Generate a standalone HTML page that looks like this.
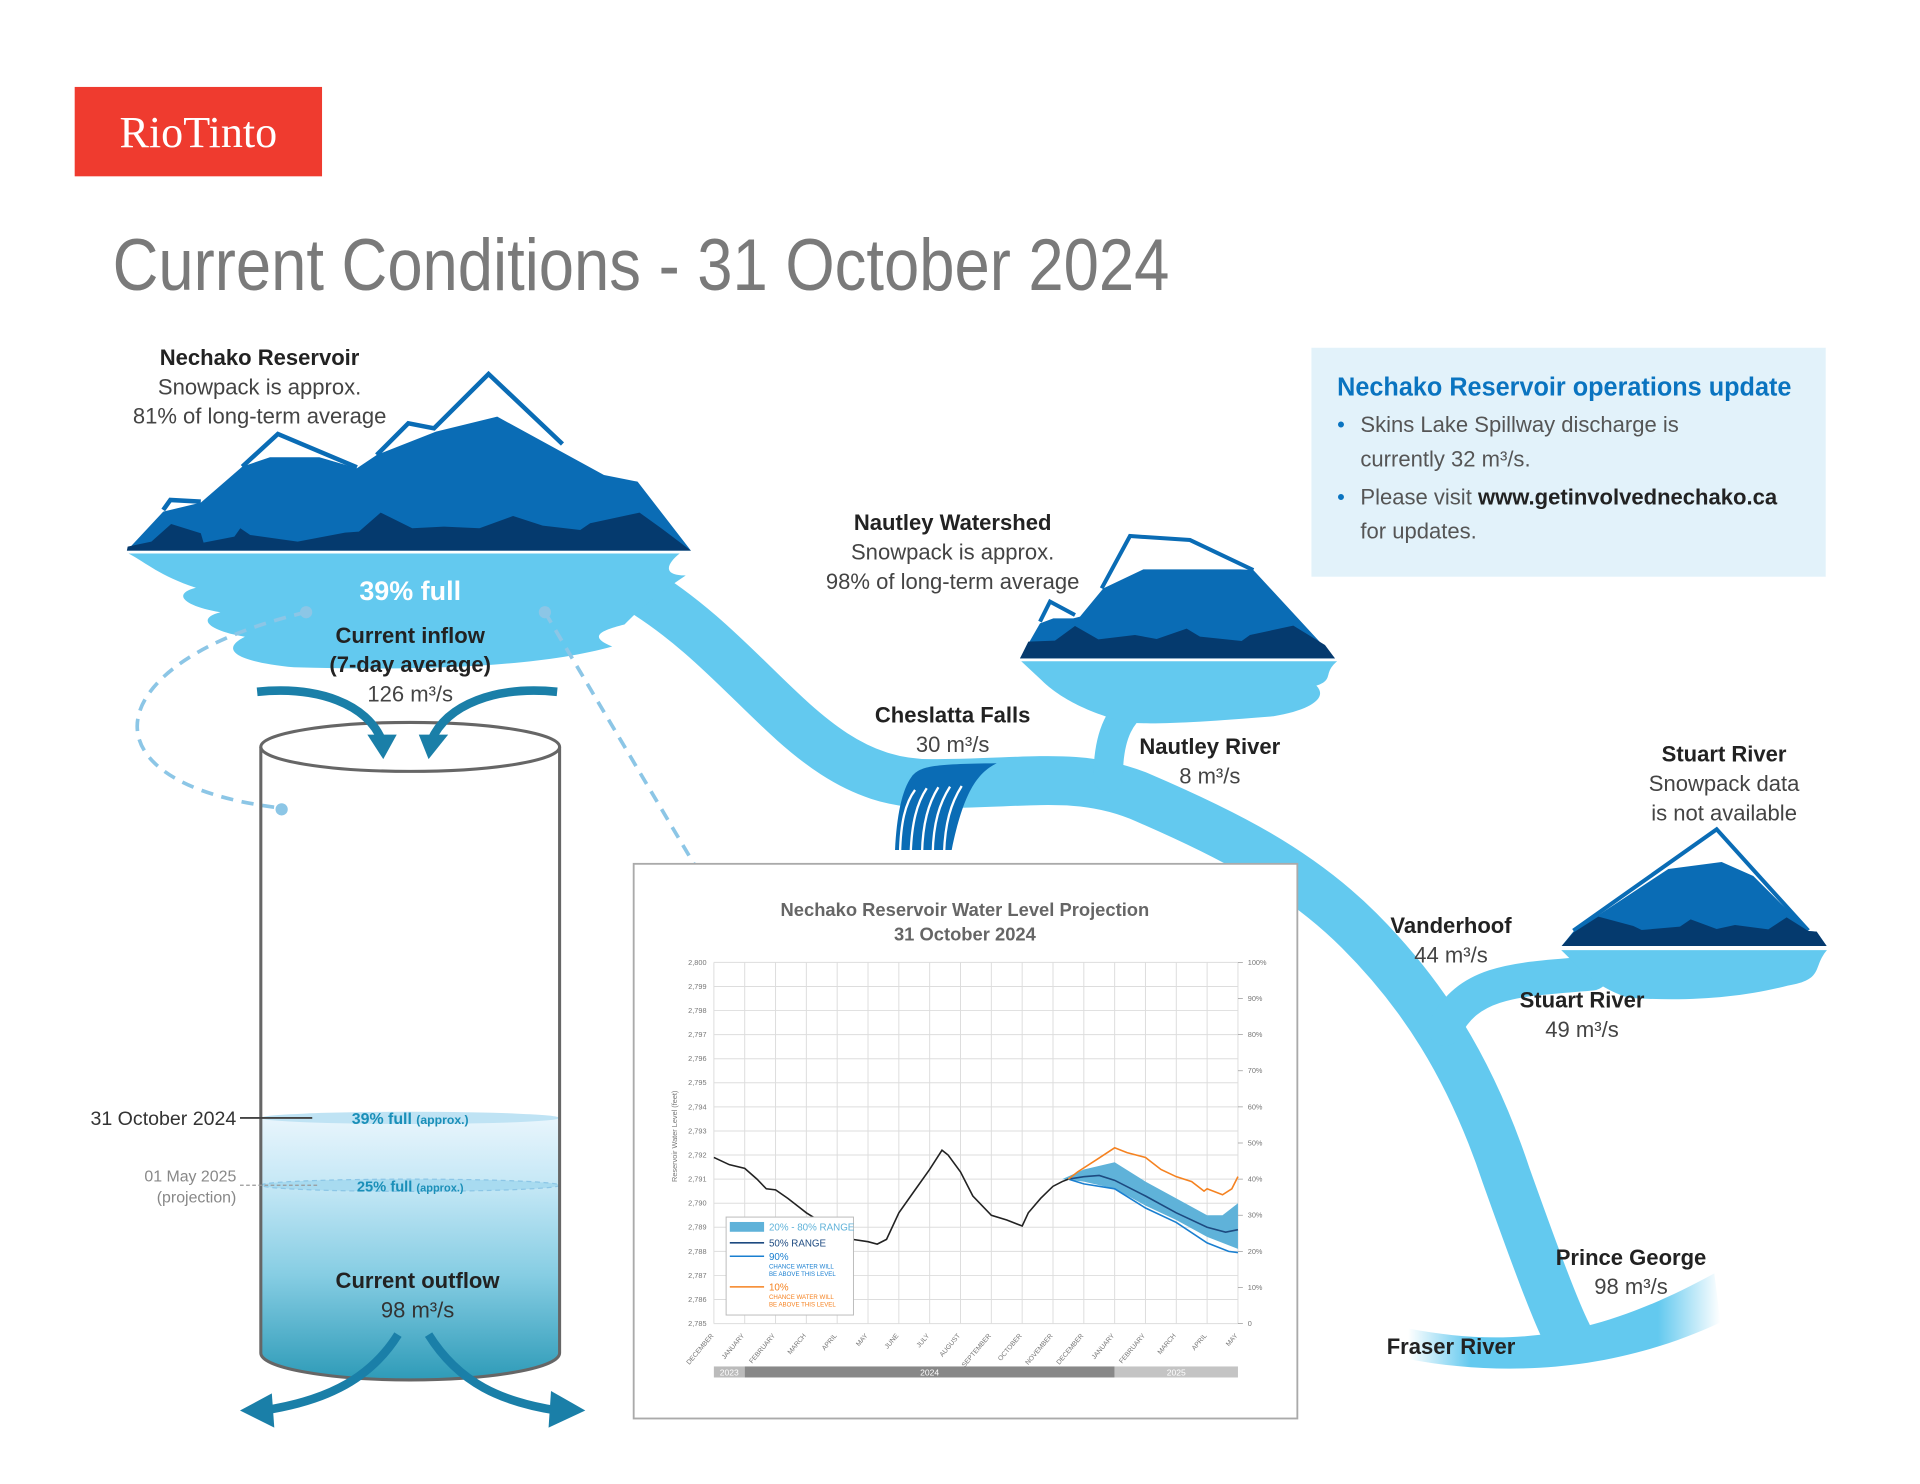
<!DOCTYPE html>
<html><head><meta charset="utf-8"><style>
html,body{margin:0;padding:0;background:#fff;}
svg{display:block;}
text{font-family:"Liberation Sans",sans-serif;}
</style></head><body>
<svg id="s" width="1920" height="1484" viewBox="0 0 1568 1212" preserveAspectRatio="none" xmlns="http://www.w3.org/2000/svg">
<defs>
<linearGradient id="cyl" x1="0" y1="0" x2="0" y2="1">
<stop offset="0" stop-color="#e8f5fc"/><stop offset="0.25" stop-color="#c6e8f6"/><stop offset="0.6" stop-color="#86cde3"/><stop offset="1" stop-color="#2e9bb8"/></linearGradient>
<linearGradient id="fr" x1="0" y1="0" x2="1" y2="0">
<stop offset="0" stop-color="#63c9ef" stop-opacity="0"/><stop offset="0.2" stop-color="#63c9ef"/><stop offset="0.8" stop-color="#63c9ef"/><stop offset="1" stop-color="#63c9ef" stop-opacity="0"/></linearGradient>
</defs>
<rect x="61" y="71" width="202" height="73" fill="#ef3b2f"/>
<text x="162" y="120" text-anchor="middle" fill="#fff" font-size="36" style="font-family:'Liberation Serif',serif">RioTinto</text>
<text x="92" y="237" fill="#7a7a7a" font-size="60" textLength="863" lengthAdjust="spacingAndGlyphs">Current Conditions - 31 October 2024</text>

<rect x="1071" y="284" width="420" height="187" fill="#e2f2fa"/>
<text x="1092" y="323" fill="#0a74c0" font-size="21" font-weight="bold" textLength="371" lengthAdjust="spacingAndGlyphs">Nechako Reservoir operations update</text>
<g fill="#555" font-size="18">
<text x="1092" y="353" fill="#0a74c0">•</text>
<text x="1111" y="353">Skins Lake Spillway discharge is</text>
<text x="1111" y="381">currently 32 m³/s.</text>
<text x="1092" y="412" fill="#0a74c0">•</text>
<text x="1111" y="412">Please visit <tspan font-weight="bold" fill="#222">www.getinvolvednechako.ca</tspan></text>
<text x="1111" y="440">for updates.</text>
</g>

<g fill="none" stroke="#63c9ef" stroke-linecap="round">
<path d="M520 480 C620 540 660 640 760 640 C840 640 880 630 930 650 C1000 680 1060 710 1110 760 C1160 810 1200 870 1230 960 C1255 1030 1270 1070 1280 1090" stroke-width="40"/>
<path d="M1180 840 C1200 800 1240 800 1300 795" stroke-width="28"/>
<path d="M905 635 C905 600 915 580 935 570" stroke-width="24"/>
</g>
<path d="M1150 1085 C1230 1100 1300 1095 1400 1040 L1405 1080 C1320 1120 1230 1125 1150 1110 Z" fill="url(#fr)"/>
<path d="M105 452 L555 452 C545 460 540 470 560 470 C530 490 520 500 510 510 C490 515 480 520 500 528 C440 545 340 548 240 545 C190 540 180 530 200 520 C170 515 160 505 180 500 C150 495 140 485 160 480 C130 470 120 460 105 452 Z" fill="#63c9ef"/>

<!-- big mountain (zoom coords) -->
<g transform="translate(81.67,294) scale(0.3228,0.2722)">
<path d="M68,572 L160,455 L255,428 L360,320 L430,292 L555,292 L650,325 L700,285 L850,215 L1005,170 L1275,345 L1360,365 L1495,572 Z" fill="#0a6cb5"/>
<path d="M160,450 L178,420 L255,425 M360,320 L450,222 L650,322 M700,285 L780,190 L845,205 L983,42 L1170,252" fill="none" stroke="#0a6cb5" stroke-width="4.5" vector-effect="non-scaling-stroke"/>
<path d="M70,560 L130,545 L180,492 L255,520 L262,548 L340,530 L355,505 L380,525 L500,545 L620,518 L655,515 L710,458 L790,505 L870,500 L960,505 L1045,468 L1120,497 L1215,510 L1240,490 L1365,458 L1420,505 L1495,572 L68,572 Z" fill="#053a6e"/>
</g>

<!-- Nautley lake -->
<path d="M834 540 L1092 540 C1080 550 1090 555 1075 560 C1085 570 1070 580 1040 585 C980 590 940 592 920 590 C880 580 860 565 850 555 Z" fill="#63c9ef"/>
<g transform="translate(833,424.7) scale(0.2722)">
<path d="M0,415 L60,310 L100,295 L160,295 L180,290 L250,205 L370,148 L660,148 L700,150 L945,415 Z" fill="#0a6cb5"/>
<path d="M60,305 L90,245 L165,285 M245,205 L330,48 L510,60 L700,150" fill="none" stroke="#0a6cb5" stroke-width="4" vector-effect="non-scaling-stroke"/>
<path d="M0,415 L25,365 L105,362 L165,318 L235,358 L345,345 L410,357 L500,326 L540,350 L665,363 L690,345 L820,317 L915,375 L945,415 Z" fill="#053a6e"/>
</g>
<!-- Stuart -->
<path d="M1275 776 L1492 776 C1480 790 1490 800 1460 805 C1420 815 1380 818 1330 815 C1300 805 1290 790 1275 776 Z" fill="#63c9ef"/>
<g transform="translate(1274,669.7) scale(0.2722)">
<path d="M5,378 L40,335 L325,147 L485,126 L580,168 L745,333 L770,335 L800,378 Z" fill="#0a6cb5"/>
<path d="M40,332 L470,28 L745,332" fill="none" stroke="#0a6cb5" stroke-width="4" vector-effect="non-scaling-stroke"/>
<path d="M5,378 L40,338 L115,290 L220,318 L245,330 L360,320 L392,298 L470,327 L525,315 L625,328 L680,292 L745,333 L770,335 L800,378 Z" fill="#053a6e"/>
</g>

<!-- waterfall -->
<g transform="translate(718.7,612.5) scale(0.2722)">
<path d="M95,80 C120,50 150,42 350,40 C290,70 250,130 215,300 L45,300 C50,200 65,120 95,80 Z" fill="#0a6cb5"/>
<g stroke="#fff" stroke-width="7" fill="none"><path d="M60,310 C62,220 75,160 105,120"/><path d="M92,310 C95,220 110,160 140,115"/><path d="M126,310 C128,220 145,160 175,112"/><path d="M158,310 C160,220 178,160 210,110"/><path d="M192,310 C195,220 212,160 245,108"/></g>
</g>

<g fill="none" stroke="#8cc6e6" stroke-width="3" stroke-dasharray="10 7">
<path d="M250 500 C80 540 60 640 230 660"/>
<path d="M445 500 L583 733"/>
</g>
<g fill="#8cc6e6"><circle cx="250" cy="500" r="5"/><circle cx="230" cy="661" r="5"/><circle cx="445" cy="500" r="5"/><circle cx="583" cy="734" r="5"/></g>

<g font-size="18" text-anchor="middle" fill="#444">
<text x="212" y="298" font-weight="bold" fill="#222">Nechako Reservoir</text>
<text x="212" y="322">Snowpack is approx.</text>
<text x="212" y="346">81% of long-term average</text>
<text x="335" y="490" font-weight="bold" fill="#fff" font-size="22">39% full</text>
<text x="335" y="525" font-weight="bold" fill="#222">Current inflow</text>
<text x="335" y="549" font-weight="bold" fill="#222">(7-day average)</text>
<text x="335" y="573">126 m³/s</text>
<text x="778" y="433" font-weight="bold" fill="#222">Nautley Watershed</text>
<text x="778" y="457">Snowpack is approx.</text>
<text x="778" y="481">98% of long-term average</text>
<text x="778" y="590" font-weight="bold" fill="#222">Cheslatta Falls</text>
<text x="778" y="614">30 m³/s</text>
<text x="988" y="616" font-weight="bold" fill="#222">Nautley River</text>
<text x="988" y="640">8 m³/s</text>
<text x="1408" y="622" font-weight="bold" fill="#222">Stuart River</text>
<text x="1408" y="646">Snowpack data</text>
<text x="1408" y="670">is not available</text>
<text x="1185" y="762" font-weight="bold" fill="#222">Vanderhoof</text>
<text x="1185" y="786">44 m³/s</text>
<text x="1292" y="823" font-weight="bold" fill="#222">Stuart River</text>
<text x="1292" y="847">49 m³/s</text>
<text x="1332" y="1033" font-weight="bold" fill="#222">Prince George</text>
<text x="1332" y="1057">98 m³/s</text>
<text x="1185" y="1106" font-weight="bold" fill="#222">Fraser River</text>
</g>

<path d="M213 913 L213 1105 A122 22 0 0 0 457 1105 L457 913 Z" fill="url(#cyl)"/>
<ellipse cx="335" cy="913" rx="122" ry="5" fill="#bfe3f4"/>
<ellipse cx="335" cy="968" rx="122" ry="5" fill="#a8dbf0" stroke="#8cc6e6" stroke-dasharray="4 3"/>
<path d="M213 610 L213 1105 A122 22 0 0 0 457 1105 L457 610" fill="none" stroke="#666" stroke-width="2.5"/>
<ellipse cx="335" cy="610" rx="122" ry="20" fill="#fff" stroke="#666" stroke-width="2.5"/>
<g fill="none" stroke="#1a7fa8" stroke-width="7">
<path d="M210 565 C260 560 300 575 312 605"/><path d="M455 565 C405 560 365 575 352 605"/>
<path d="M325 1090 C300 1130 260 1145 215 1152"/><path d="M350 1090 C375 1130 410 1145 455 1152"/>
</g>
<g fill="#1a7fa8"><path d="M300 600 L324 600 L313 620 Z"/><path d="M342 600 L366 600 L350 620 Z"/>
<path d="M196 1152 L222 1138 L224 1166 Z"/><path d="M478 1152 L450 1136 L448 1166 Z"/></g>
<text x="335" y="918" text-anchor="middle" font-size="13" font-weight="bold" fill="#1a8fb8">39% full <tspan font-size="10">(approx.)</tspan></text>
<text x="335" y="973" text-anchor="middle" font-size="12" font-weight="bold" fill="#1a8fb8">25% full <tspan font-size="9">(approx.)</tspan></text>
<text x="341" y="1052" text-anchor="middle" font-size="18" font-weight="bold" fill="#222">Current outflow</text>
<text x="341" y="1076" text-anchor="middle" font-size="18" fill="#333">98 m³/s</text>
<line x1="196" y1="913" x2="255" y2="913" stroke="#444" stroke-width="1.5"/>
<text x="193" y="919" text-anchor="end" font-size="16" fill="#333">31 October 2024</text>
<line x1="196" y1="968" x2="260" y2="968" stroke="#999" stroke-width="1" stroke-dasharray="3 2"/>
<text x="193" y="965" text-anchor="end" font-size="13" fill="#888">01 May 2025</text>
<text x="193" y="982" text-anchor="end" font-size="13" fill="#888">(projection)</text>

<rect x="517.5" y="705.5" width="542" height="453" fill="#fff" stroke="#aaa" stroke-width="1.5"/>
<text x="788" y="748" text-anchor="middle" font-size="15" font-weight="bold" fill="#666">Nechako Reservoir Water Level Projection</text>
<text x="788" y="768" text-anchor="middle" font-size="15" font-weight="bold" fill="#666">31 October 2024</text>
<g id="chart"></g>
</svg>
<script>
(function(){
var g=document.getElementById('chart'),NS='http://www.w3.org/2000/svg';
function el(t,a,txt){var e=document.createElementNS(NS,t);for(var k in a)e.setAttribute(k,a[k]);if(txt!=null)e.textContent=txt;g.appendChild(e);return e;}
var x0=583,x1=1011,y0=786,y1=1081,dx=(x1-x0)/17;
function X(i){return x0+i*dx;}function Y(v){return y0+(2800-v)*(y1-y0)/15;}
for(var i=0;i<=15;i++){var y=Y(2800-i);el('line',{x1:x0,x2:x1,y1:y,y2:y,stroke:'#ddd','stroke-width':0.8});
el('text',{x:x0-6,y:y+2,'font-size':6,'text-anchor':'end',fill:'#777'},'2,'+(800-i));}
var m=['DECEMBER','JANUARY','FEBRUARY','MARCH','APRIL','MAY','JUNE','JULY','AUGUST','SEPTEMBER','OCTOBER','NOVEMBER','DECEMBER','JANUARY','FEBRUARY','MARCH','APRIL','MAY'];
for(var i=0;i<18;i++){var x=X(i);el('line',{x1:x,x2:x,y1:y0,y2:y1,stroke:'#ddd','stroke-width':0.8});
el('text',{x:x,y:y1+10,'font-size':5.5,'text-anchor':'end',fill:'#777',transform:'rotate(-50 '+x+' '+(y1+10)+')'},m[i]);}
for(var p=0;p<=10;p++){var y=y1-p*(y1-y0)/10;el('line',{x1:x1,x2:x1+4,y1:y,y2:y,stroke:'#999','stroke-width':0.6});
el('text',{x:x1+8,y:y+2,'font-size':6,fill:'#777'},p==0?'0':p*10+'%');}
el('text',{x:553,y:928,'font-size':6,fill:'#777','text-anchor':'middle',transform:'rotate(-90 553 928)'},'Reservoir Water Level (feet)');
el('rect',{x:x0,y:1116,width:dx,height:9,fill:'#bbb'});el('rect',{x:X(1),y:1116,width:dx*12,height:9,fill:'#888'});el('rect',{x:X(13),y:1116,width:dx*4,height:9,fill:'#c4c4c4'});
el('text',{x:X(0.5),y:1123.5,'font-size':7,fill:'#fff','text-anchor':'middle'},'2023');
el('text',{x:X(7),y:1123.5,'font-size':7,fill:'#fff','text-anchor':'middle'},'2024');
el('text',{x:X(15),y:1123.5,'font-size':7,fill:'#fff','text-anchor':'middle'},'2025');
function P(a){return a.map(function(q,i){return (i?'L':'M')+X(q[0]).toFixed(1)+' '+Y(q[1]).toFixed(1);}).join(' ');}
var up=[[11.3,2791],[12,2791.4],[13,2791.7],[14,2790.9],[15,2790.2],[16,2789.5],[16.5,2789.5],[17,2790]];
var lo=[[11.3,2791],[12,2790.9],[13,2790.6],[14,2789.9],[15,2789.3],[16,2788.6],[17,2788.1]];
el('path',{d:P(up)+' '+P(lo.slice().reverse()).replace('M','L')+'Z',fill:'#5fb2d9'});
var hist=[[0,2791.9],[0.5,2791.6],[1,2791.45],[1.4,2791],[1.7,2790.6],[2,2790.55],[2.4,2790.2],[2.8,2789.8],[3,2789.6],[3.5,2789.2],[4,2788.8],[4.5,2788.5],[5,2788.4],[5.3,2788.3],[5.6,2788.5],[6,2789.6],[6.5,2790.5],[7,2791.4],[7.4,2792.2],[7.6,2792],[8,2791.3],[8.4,2790.3],[9,2789.5],[9.5,2789.3],[10,2789.05],[10.2,2789.6],[10.6,2790.2],[11,2790.7],[11.3,2790.9],[11.5,2791]];
el('path',{d:P(hist),fill:'none',stroke:'#222','stroke-width':1.3});
el('path',{d:P([[11.5,2791],[12,2790.8],[13,2790.6],[14,2789.8],[15,2789.2],[16,2788.35],[16.7,2788],[17,2787.95]]),fill:'none',stroke:'#1a7fd0','stroke-width':1.3});
el('path',{d:P([[11.5,2791],[12,2791.1],[12.5,2791.15],[13,2790.95],[14,2790.3],[15,2789.6],[16,2789],[16.6,2788.8],[17,2788.9]]),fill:'none',stroke:'#1d4a80','stroke-width':1.3});
el('path',{d:P([[11.5,2791],[11.8,2791.3],[12.4,2791.8],[13,2792.3],[13.4,2792.1],[14,2791.9],[14.5,2791.4],[15,2791.1],[15.5,2790.9],[15.9,2790.5],[16,2790.6],[16.5,2790.35],[16.8,2790.6],[17,2791.1]]),fill:'none',stroke:'#f58220','stroke-width':1.3});
el('rect',{x:593,y:994,width:104,height:80,fill:'#fff',stroke:'#bbb','stroke-width':0.8});
el('rect',{x:596,y:998,width:28,height:8,fill:'#5fb2d9'});
el('text',{x:628,y:1005,'font-size':8,fill:'#5fb2d9'},'20% - 80% RANGE');
el('line',{x1:596,x2:624,y1:1015,y2:1015,stroke:'#1d4a80','stroke-width':1.3});el('text',{x:628,y:1018,'font-size':8,fill:'#1d4a80'},'50% RANGE');
el('line',{x1:596,x2:624,y1:1026,y2:1026,stroke:'#1a7fd0','stroke-width':1.3});el('text',{x:628,y:1029,'font-size':8,fill:'#1a7fd0'},'90%');
el('text',{x:628,y:1036,'font-size':5,fill:'#1a7fd0'},'CHANCE WATER WILL');el('text',{x:628,y:1042,'font-size':5,fill:'#1a7fd0'},'BE ABOVE THIS LEVEL');
el('line',{x1:596,x2:624,y1:1051,y2:1051,stroke:'#f58220','stroke-width':1.3});el('text',{x:628,y:1054,'font-size':8,fill:'#f58220'},'10%');
el('text',{x:628,y:1061,'font-size':5,fill:'#f58220'},'CHANCE WATER WILL');el('text',{x:628,y:1067,'font-size':5,fill:'#f58220'},'BE ABOVE THIS LEVEL');
})();
</script>
</body></html>
